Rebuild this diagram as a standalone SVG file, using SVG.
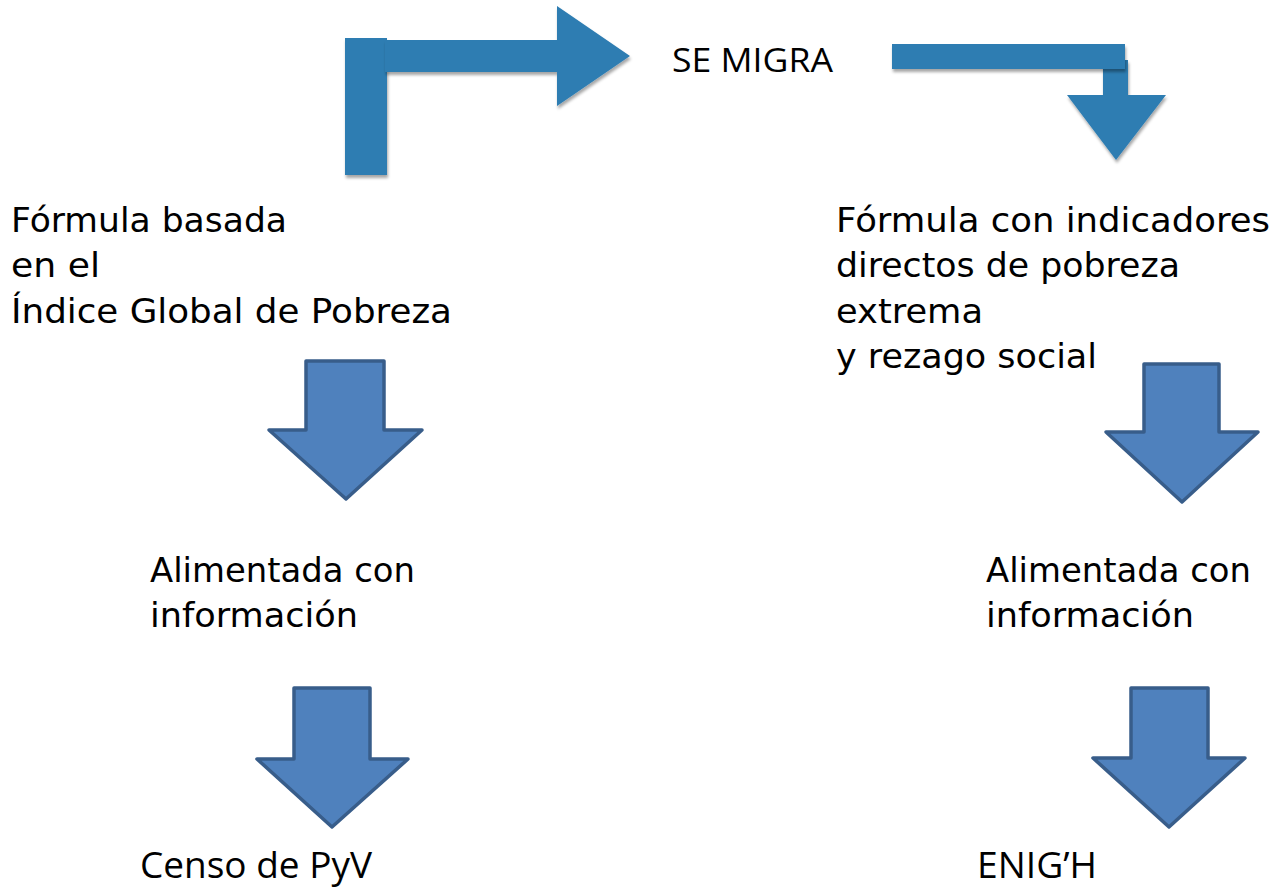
<svg xmlns="http://www.w3.org/2000/svg" width="1276" height="890" viewBox="0 0 1276 890">
  <defs>
    <filter id="shadow" x="-10%" y="-10%" width="130%" height="140%">
      <feDropShadow dx="1" dy="3" stdDeviation="1.5" flood-color="#000" flood-opacity="0.35"/>
    </filter>
  </defs>
  <style>
    .t { font-family: "DejaVu Sans", "Liberation Sans", sans-serif; font-size: 34px; fill: #000; }
    .g { font-family: "Open Sans", "DejaVu Sans", sans-serif; fill: #000; }
    .bend { fill: #2e7db2; filter: url(#shadow); }
    .down { fill: #4f81bd; stroke: #385d8a; stroke-width: 3.5; stroke-linejoin: round; }
  </style>
  <rect width="1276" height="890" fill="#ffffff"/>

  <g id="connectors">
    <g id="arrow-left-bend">
      <rect class="bend" x="345" y="38" width="42" height="137"/>
      <path class="bend" d="M385,40 L557,40 L557,6 L630,56 L557,106 L557,72 L385,72 Z"/>
    </g>
    <g id="arrow-right-bend">
      <path class="bend" d="M1103,60 L1128,60 L1128,95 L1166,95 L1116,160 L1067,95 L1103,95 Z"/>
      <rect class="bend" x="892" y="44" width="233" height="25"/>
    </g>
    <path id="arrow-l1" class="down" d="M306,361 L384,361 L384,430 L422,430 L346,499 L269,430 L306,430 Z"/>
    <path id="arrow-l2" class="down" d="M294,688 L370,688 L370,759 L408,759 L332,827 L257,759 L294,759 Z"/>
    <path id="arrow-r1" class="down" d="M1144,364 L1219,364 L1219,432 L1258,432 L1182,502 L1106,432 L1144,432 Z"/>
    <path id="arrow-r2" class="down" d="M1131,688 L1208,688 L1208,758 L1245,758 L1169,827 L1093,758 L1131,758 Z"/>
  </g>

  <g id="node-se-migra">
    <text class="g" x="672" y="72" font-size="33" textLength="161" lengthAdjust="spacingAndGlyphs">SE MIGRA</text>
  </g>

  <g id="node-formula-igp">
    <text class="t" x="11" y="232" textLength="276" lengthAdjust="spacingAndGlyphs">Fórmula basada</text>
    <text class="t" x="11" y="277" textLength="89" lengthAdjust="spacingAndGlyphs">en el</text>
    <text class="t" x="11" y="323" textLength="441" lengthAdjust="spacingAndGlyphs">Índice Global de Pobreza</text>
  </g>

  <g id="node-formula-directos">
    <text class="t" x="836" y="232" textLength="434" lengthAdjust="spacingAndGlyphs">Fórmula con indicadores</text>
    <text class="t" x="836" y="277" textLength="344" lengthAdjust="spacingAndGlyphs">directos de pobreza</text>
    <text class="t" x="836" y="323" textLength="147" lengthAdjust="spacingAndGlyphs">extrema</text>
    <text class="t" x="836" y="368" textLength="261" lengthAdjust="spacingAndGlyphs">y rezago social</text>
  </g>

  <g id="node-alimentada-left">
    <text class="t" x="150" y="582" textLength="265" lengthAdjust="spacingAndGlyphs">Alimentada con</text>
    <text class="t" x="150" y="627" textLength="208" lengthAdjust="spacingAndGlyphs">información</text>
  </g>

  <g id="node-alimentada-right">
    <text class="t" x="986" y="582" textLength="265" lengthAdjust="spacingAndGlyphs">Alimentada con</text>
    <text class="t" x="986" y="627" textLength="208" lengthAdjust="spacingAndGlyphs">información</text>
  </g>

  <g id="node-censo">
    <text class="g" x="140" y="878" font-size="36" textLength="232" lengthAdjust="spacingAndGlyphs">Censo de PyV</text>
  </g>

  <g id="node-enigh">
    <text class="g" x="977" y="878" font-size="36" textLength="120" lengthAdjust="spacingAndGlyphs">ENIG’H</text>
  </g>
</svg>
